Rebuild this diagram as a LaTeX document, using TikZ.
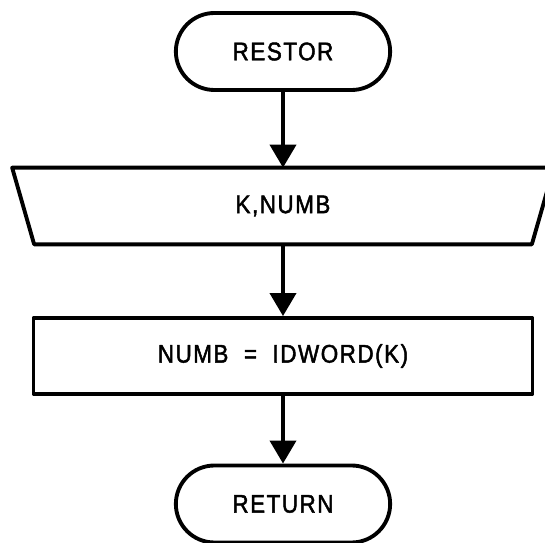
\documentclass[tikz,border=0pt]{standalone}
\usepackage{fontspec}
\setmainfont{Liberation Sans}[FakeStretch=0.88, FakeBold=1.8, LetterSpace=6]
\usetikzlibrary{shapes,arrows,positioning,calc,arrows.meta}

\tikzset{
    boxline/.style={line width=2.2pt, line join=round},
    term/.style={draw, boxline, rounded rectangle, minimum width=4.52cm, minimum height=1.54cm, font=\fontsize{14.5}{16}\selectfont},
    inbox/.style={rectangle, minimum width=10.82cm, minimum height=1.52cm, font=\fontsize{14.5}{16}\selectfont},
    procbox/.style={draw, boxline, rectangle, minimum width=9.98cm, minimum height=1.52cm, font=\fontsize{14.5}{16}\selectfont},
    flow/.style={line width=2.2pt, -{Triangle[width=0.52cm, length=0.46cm]}}
}

\begin{document}
\begin{tikzpicture}
    \useasboundingbox (0,0) rectangle (10.9,-10.86);
    \clip (0,0) rectangle (10.9,-10.86);

    % Start
    \node[term] (restor) at (5.66,-1.03) {RESTOR};

    % Input (trapezium drawn round the node)
    \node[inbox] (knumb) at (5.66,-4.12) {K,NUMB};
    \draw[boxline] (knumb.north west) -- ($(knumb.south west)+(0.44,0)$) -- ($(knumb.south east)+(-0.44,0)$) -- (knumb.north east) -- cycle;

    % Assignment
    \node[procbox] (assign) at (5.66,-7.12) {NUMB \ = \ IDWORD(K)};

    % End
    \node[term] (ret) at (5.66,-10.08) {RETURN};

    \draw[flow] (restor) -- (knumb);
    \draw[flow] (knumb) -- (assign);
    \draw[flow] (assign) -- (ret);
\end{tikzpicture}
\end{document}
